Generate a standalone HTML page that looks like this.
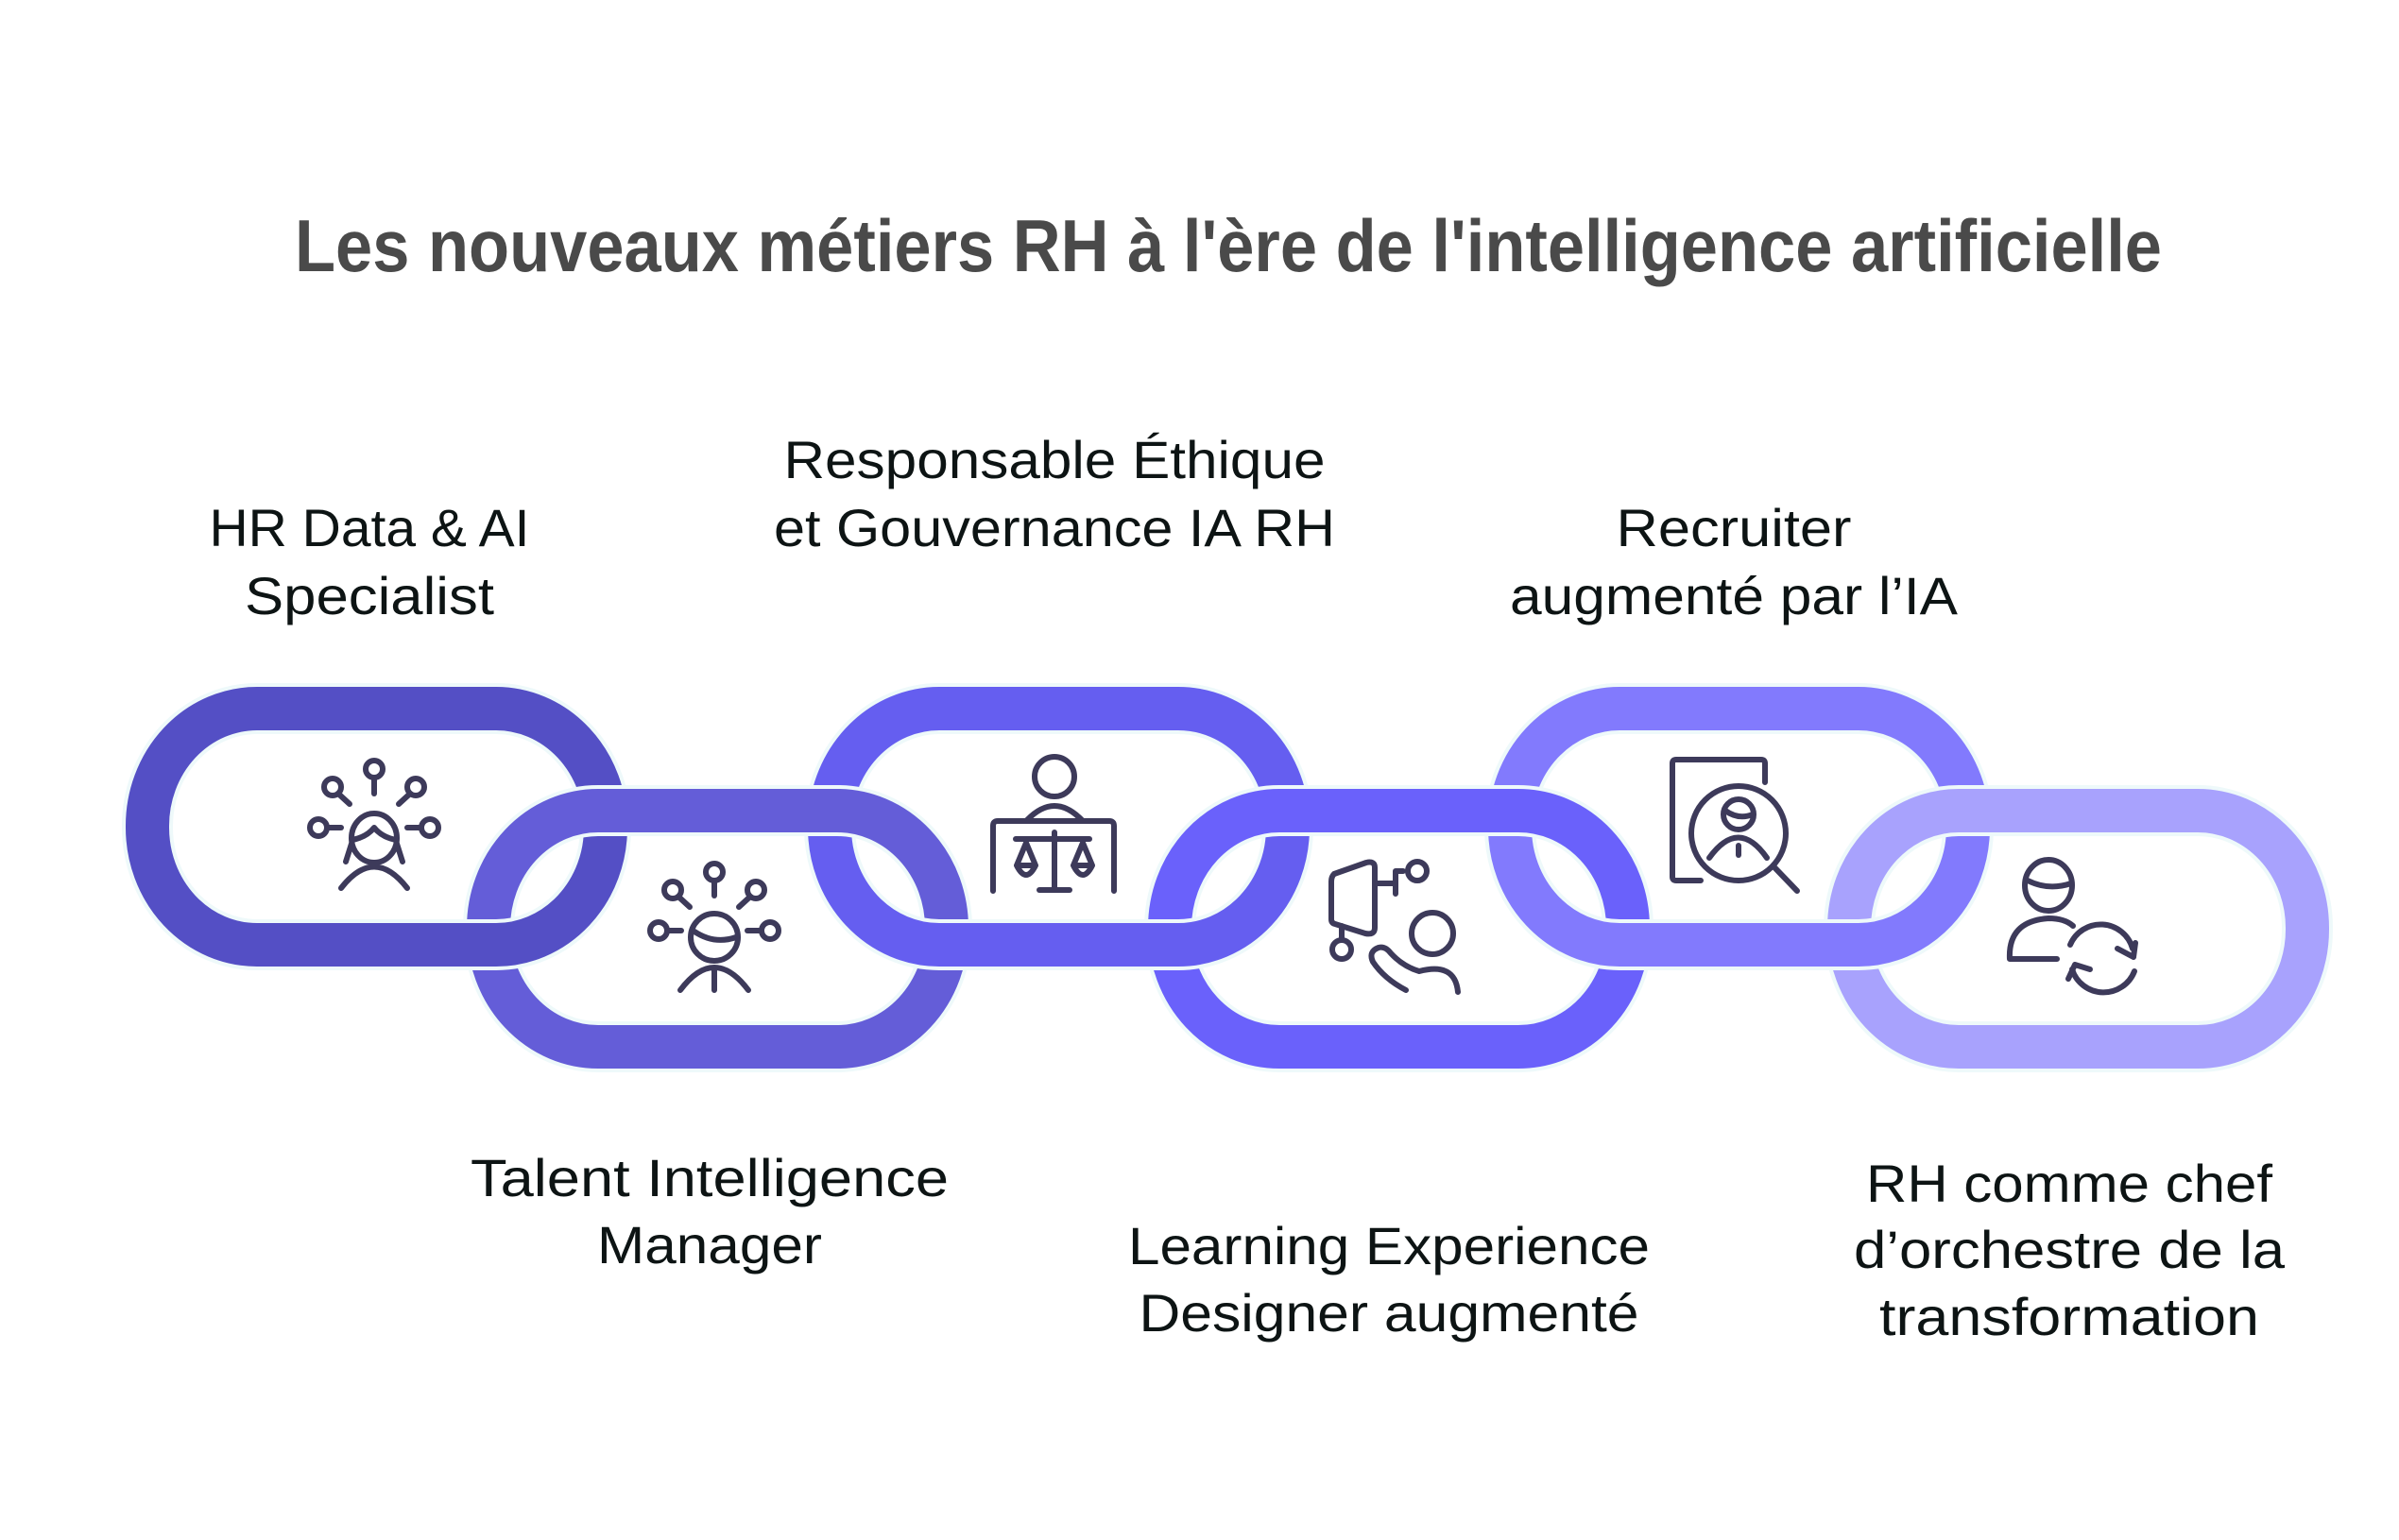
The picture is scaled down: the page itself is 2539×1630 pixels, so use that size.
<!DOCTYPE html>
<html><head><meta charset="utf-8"><style>
html,body{margin:0;padding:0;background:#fff;}
svg{display:block;}
.lbl{font-family:"Liberation Sans",sans-serif;font-size:56px;fill:#0d1414;text-anchor:middle;}
.ic{fill:none;stroke:#3d3a5a;stroke-width:6;stroke-linecap:round;stroke-linejoin:round;}
</style></head><body>
<svg width="2539" height="1630" viewBox="0 0 2539 1630" xmlns="http://www.w3.org/2000/svg">
<defs>
<clipPath id="low"><rect x="0" y="952" width="2539" height="100"/></clipPath>
</defs>
<text x="1300" y="287" font-family="Liberation Sans, sans-serif" font-weight="bold" font-size="78" fill="#4a4a4a" text-anchor="middle" textLength="1976" lengthAdjust="spacingAndGlyphs">Les nouveaux métiers RH à l'ère de l'intelligence artificielle</text>

<g fill="none">
<rect x="156" y="750" width="485" height="250" rx="116" ry="124" stroke="#eef9fa" stroke-width="54"/>
<rect x="156" y="750" width="485" height="250" rx="116" ry="124" stroke="#544fc5" stroke-width="46"/>
<rect x="878" y="750" width="485" height="250" rx="116" ry="124" stroke="#eef9fa" stroke-width="54"/>
<rect x="878" y="750" width="485" height="250" rx="116" ry="124" stroke="#655ef0" stroke-width="46"/>
<rect x="1598" y="750" width="485" height="250" rx="116" ry="124" stroke="#eef9fa" stroke-width="54"/>
<rect x="1598" y="750" width="485" height="250" rx="116" ry="124" stroke="#827afd" stroke-width="46"/>
</g>
<g fill="none">
<rect x="517" y="858" width="485" height="250" rx="116" ry="124" stroke="#eef9fa" stroke-width="54"/>
<rect x="517" y="858" width="485" height="250" rx="116" ry="124" stroke="#645dd8" stroke-width="46"/>
<rect x="1238" y="858" width="485" height="250" rx="116" ry="124" stroke="#eef9fa" stroke-width="54"/>
<rect x="1238" y="858" width="485" height="250" rx="116" ry="124" stroke="#6a61fb" stroke-width="46"/>
<rect x="1957" y="858" width="485" height="250" rx="116" ry="124" stroke="#eef9fa" stroke-width="54"/>
<rect x="1957" y="858" width="485" height="250" rx="116" ry="124" stroke="#a8a2fd" stroke-width="46"/>
</g>
<g fill="none" clip-path="url(#low)">
<rect x="156" y="750" width="485" height="250" rx="116" ry="124" stroke="#eef9fa" stroke-width="54"/>
<rect x="156" y="750" width="485" height="250" rx="116" ry="124" stroke="#544fc5" stroke-width="46"/>
<rect x="878" y="750" width="485" height="250" rx="116" ry="124" stroke="#eef9fa" stroke-width="54"/>
<rect x="878" y="750" width="485" height="250" rx="116" ry="124" stroke="#655ef0" stroke-width="46"/>
<rect x="1598" y="750" width="485" height="250" rx="116" ry="124" stroke="#eef9fa" stroke-width="54"/>
<rect x="1598" y="750" width="485" height="250" rx="116" ry="124" stroke="#827afd" stroke-width="46"/>
</g>

<g class="ic">
<circle cx="396" cy="814" r="9"/><line x1="396" y1="823" x2="396" y2="840"/>
<circle cx="352" cy="833" r="9"/><line x1="358" y1="840" x2="370" y2="851"/>
<circle cx="440" cy="833" r="9"/><line x1="434" y1="840" x2="422" y2="851"/>
<circle cx="337" cy="876" r="9"/><line x1="346" y1="876" x2="361" y2="876"/>
<circle cx="455" cy="876" r="9"/><line x1="446" y1="876" x2="431" y2="876"/>
<ellipse cx="396" cy="887" rx="24" ry="26"/>
<path d="M373 889 Q388 886 396 876 Q404 886 419 889"/>
<path d="M372 893 L366 912 M420 893 L426 912"/>
<path d="M361 940 Q396 895 431 940"/>
</g>
<g class="ic">
<circle cx="756" cy="923" r="9"/><line x1="756" y1="932" x2="756" y2="948"/>
<circle cx="712" cy="942" r="9"/><line x1="718" y1="949" x2="730" y2="960"/>
<circle cx="800" cy="942" r="9"/><line x1="794" y1="949" x2="782" y2="960"/>
<circle cx="697" cy="985" r="9"/><line x1="706" y1="985" x2="721" y2="985"/>
<circle cx="815" cy="985" r="9"/><line x1="806" y1="985" x2="791" y2="985"/>
<circle cx="756" cy="992" r="25"/>
<path d="M735 986 Q756 1000 779 992"/>
<path d="M720 1048 Q756 1000 792 1048 M756 1027 L756 1048"/>
</g>
<g class="ic">
<circle cx="1116" cy="822" r="21"/>
<path d="M1087 868 Q1116 838 1145 868"/>
<path d="M1051 943 L1051 874 Q1051 869 1056 869 L1174 869 Q1179 869 1179 874 L1179 943"/>
<line x1="1075" y1="888" x2="1153" y2="888"/>
<line x1="1116" y1="881" x2="1116" y2="942"/><line x1="1100" y1="942" x2="1132" y2="942"/>
<path d="M1086 892 L1076 916 L1096 916 Z M1076 916 Q1086 936 1096 916"/>
<path d="M1146 892 L1136 916 L1156 916 Z M1136 916 Q1146 936 1156 916"/>
</g>
<g class="ic">
<path d="M1412 925 Q1409 928 1409 933 L1409 973 Q1409 977 1413 978 L1445 988 Q1455 990 1455 982 L1455 918 Q1455 911 1446 913 Z"/>
<path d="M1455 935 L1477 935 M1477 922 L1477 946 M1477 922 L1485 922"/>
<circle cx="1500" cy="922" r="10"/>
<path d="M1420 980 L1420 995"/><circle cx="1420" cy="1005" r="10"/>
<circle cx="1516" cy="988" r="22"/>
<path d="M1488 1048 Q1465 1036 1453 1018 Q1448 1007 1459 1003 Q1466 1001 1472 1009 Q1485 1023 1502 1028 Q1540 1018 1543 1050"/>
</g>
<g class="ic">
<path d="M1800 932 L1774 932 Q1770 932 1770 928 L1770 808 Q1770 804 1774 804 L1864 804 Q1868 804 1868 808 L1868 828"/>
<circle cx="1840" cy="882" r="50"/>
<line x1="1877" y1="917" x2="1902" y2="943"/>
<circle cx="1840" cy="862" r="16"/>
<path d="M1826 858 Q1840 868 1855 862"/>
<path d="M1809 908 Q1840 865 1870 908"/>
<line x1="1840" y1="895" x2="1840" y2="905"/>
</g>
<g class="ic">
<ellipse cx="2168" cy="937" rx="25" ry="27"/>
<path d="M2146 932 Q2168 943 2192 935"/>
<path d="M2177 1015 L2127 1015 Q2125 975 2168 972 Q2185 972 2194 980"/>
<path d="M2191 1000 A35 35 0 0 1 2257 1004 M2258 1013 L2241 1004 M2258 1013 L2260 998"/>
<path d="M2259 1028 A35 35 0 0 1 2193 1026 M2212 1026 L2196 1021 M2196 1021 L2189 1036"/>
</g>

<text class="lbl" x="391" y="578" textLength="339" lengthAdjust="spacingAndGlyphs">HR Data &amp; AI</text>
<text class="lbl" x="391" y="650" textLength="264" lengthAdjust="spacingAndGlyphs">Specialist</text>
<text class="lbl" x="1116" y="506" textLength="573" lengthAdjust="spacingAndGlyphs">Responsable Éthique</text>
<text class="lbl" x="1116" y="578" textLength="594" lengthAdjust="spacingAndGlyphs">et Gouvernance IA RH</text>
<text class="lbl" x="1835" y="578" textLength="249" lengthAdjust="spacingAndGlyphs">Recruiter</text>
<text class="lbl" x="1835" y="650" textLength="474" lengthAdjust="spacingAndGlyphs">augmenté par l’IA</text>
<text class="lbl" x="751" y="1266" textLength="506" lengthAdjust="spacingAndGlyphs">Talent Intelligence</text>
<text class="lbl" x="751" y="1337" textLength="238" lengthAdjust="spacingAndGlyphs">Manager</text>
<text class="lbl" x="1470" y="1338" textLength="552" lengthAdjust="spacingAndGlyphs">Learning Experience</text>
<text class="lbl" x="1470" y="1409" textLength="529" lengthAdjust="spacingAndGlyphs">Designer augmenté</text>
<text class="lbl" x="2190" y="1272" textLength="430" lengthAdjust="spacingAndGlyphs">RH comme chef</text>
<text class="lbl" x="2190" y="1342" textLength="456" lengthAdjust="spacingAndGlyphs">d’orchestre de la</text>
<text class="lbl" x="2190" y="1413" textLength="402" lengthAdjust="spacingAndGlyphs">transformation</text>
</svg>
</body></html>
